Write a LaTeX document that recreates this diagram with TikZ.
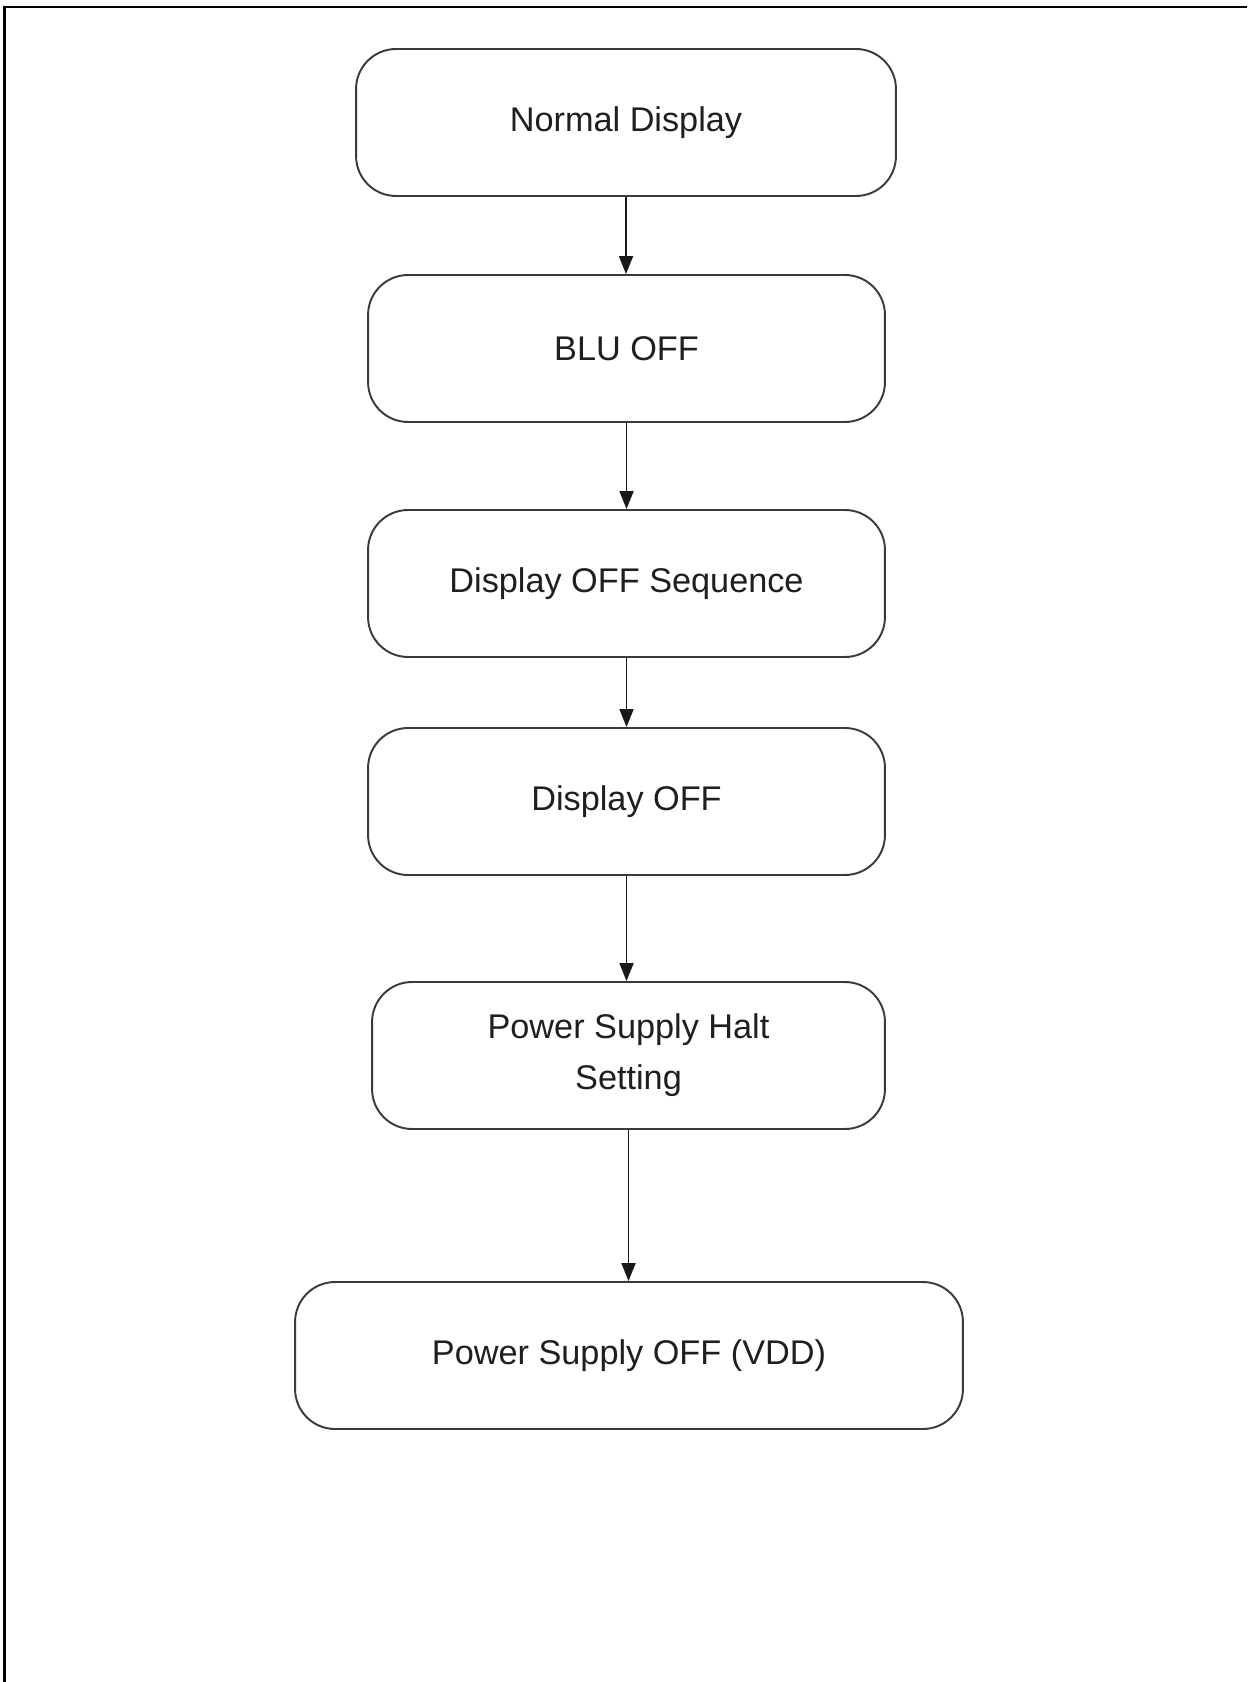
\documentclass[tikz,border=0pt]{standalone}
\usepackage{xcolor}
\usepackage{fontspec}
\setmainfont{Liberation Sans}
\usetikzlibrary{arrows.meta}

\definecolor{boxline}{HTML}{3A3A3A}

\begin{document}
\begin{tikzpicture}[x=0.02cm, y=-0.02cm,
    stage/.style={draw=boxline, line width=1.1pt, rounded corners=0.8cm,
        minimum width=10.34cm, minimum height=2.94cm, align=center,
        font=\fontsize{19.5}{29}\selectfont, text=black!88},
    flow/.style={draw=black!90, line width=1pt, -{Triangle[length=0.36cm, width=0.28cm]}}]
    \useasboundingbox (0,0) rectangle (1247,1682);
    \fill[white] (0,0) rectangle (1247,1682);
    \draw[line width=1.4pt] (4.7,1682) -- (4.7,7) -- (1247,7);

    \node[stage, minimum width=10.8cm] (normal) at (626,122.5) {Normal Display};
    \node[stage] (bluoff) at (626.5,348.5) {BLU OFF};
    \node[stage] (offseq) at (626.5,583.5) {Display OFF Sequence};
    \node[stage] (dispoff) at (626.5,801.5) {Display OFF};
    \node[stage, minimum width=10.26cm] (halt) at (628.5,1055.5) {Power Supply Halt\\Setting};
    \node[stage, minimum width=13.36cm] (vddoff) at (629,1355.5) {Power Supply OFF (VDD)};

    \draw[flow] (normal.south) -- (normal.south |- bluoff.north);
    \draw[flow] (bluoff.south) -- (bluoff.south |- offseq.north);
    \draw[flow] (offseq.south) -- (offseq.south |- dispoff.north);
    \draw[flow] (dispoff.south) -- (dispoff.south |- halt.north);
    \draw[flow] (halt.south) -- (halt.south |- vddoff.north);
\end{tikzpicture}
\end{document}
